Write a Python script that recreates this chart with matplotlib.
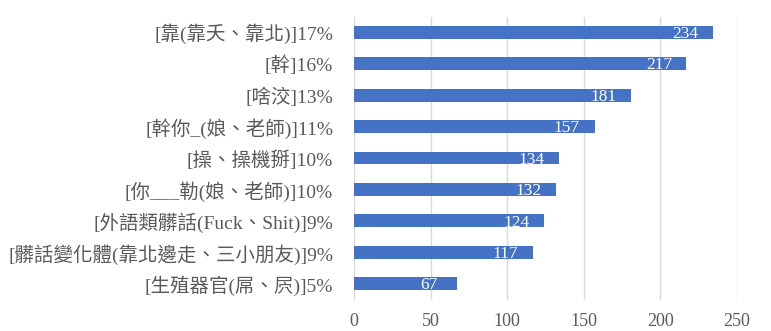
import matplotlib
matplotlib.use('Agg')
import matplotlib.pyplot as plt

# Categories from top to bottom and their counts
categories = [
    "[靠(靠夭、靠北)]17%",
    "[幹]16%",
    "[啥洨]13%",
    "[幹你_(娘、老師)]11%",
    "[操、操機掰]10%",
    "[你___勒(娘、老師)]10%",
    "[外語類髒話(Fuck、Shit)]9%",
    "[髒話變化體(靠北邊走、三小朋友)]9%",
    "[生殖器官(屌、屄)]5%",
]
counts = [234, 217, 181, 157, 134, 132, 124, 117, 67]
x_ticks = [0, 50, 100, 150, 200, 250]

fonts = ['Liberation Serif', 'Noto Sans CJK TC']
text_color = '#595959'

fig = plt.figure(figsize=(7.71, 3.31), dpi=100)
ax = fig.add_axes([0.459, 0.095, 0.497, 0.855])

ypos = list(range(len(categories)))
ax.barh(ypos, counts, height=0.41, color='#4472C4', zorder=3)

# Value labels inside the bar ends
for y, v in zip(ypos, counts):
    ax.text(v - 18, y + 0.05, str(v), ha='center', va='center',
            color='white', fontsize=12.5, family=fonts, zorder=4)

ax.set_yticks(ypos)
ax.set_yticklabels(categories, family=fonts, fontsize=14, color=text_color)
ax.set_ylim(len(categories) - 0.5, -0.5)

ax.set_xlim(0, 250)
ax.set_xticks(x_ticks)
ax.set_xticklabels([str(t) for t in x_ticks], family=fonts, fontsize=13, color=text_color)
ax.grid(axis='x', color='#D9D9D9', linewidth=1, zorder=0)
ax.tick_params(length=0)
ax.tick_params(axis='x', pad=10)
ax.tick_params(axis='y', pad=15)
for s in ax.spines.values():
    s.set_visible(False)

fig.savefig('out.png', dpi=100)
